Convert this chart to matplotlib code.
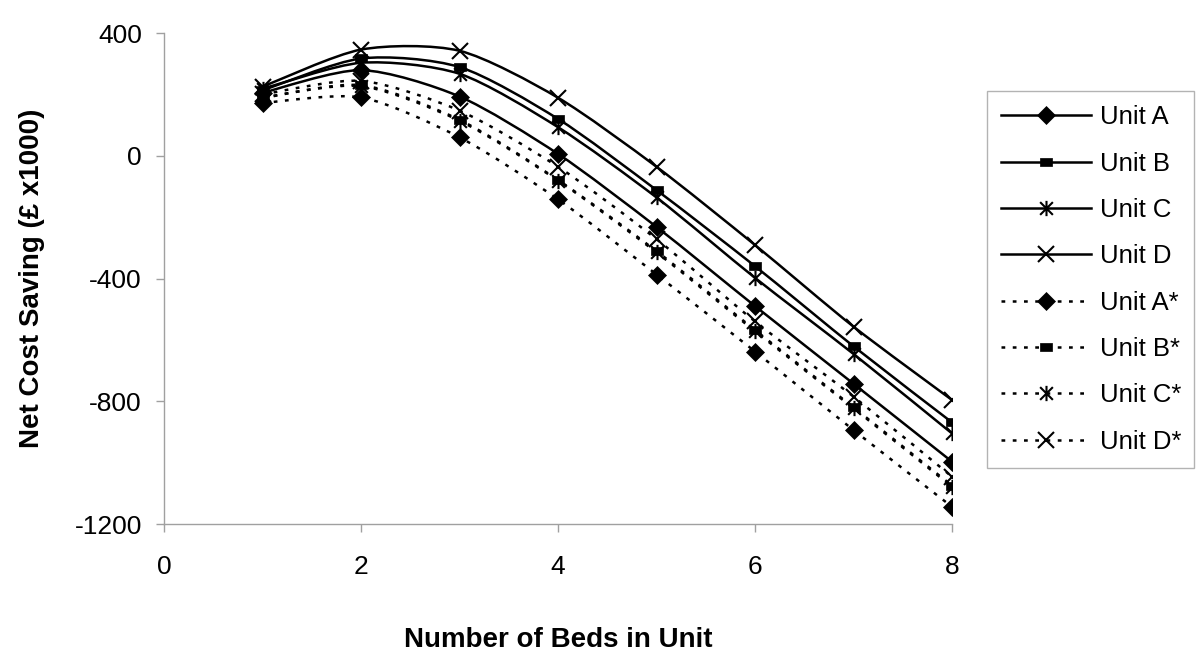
import numpy as np
import matplotlib
matplotlib.use("Agg")
import matplotlib.pyplot as plt
from matplotlib.path import Path
from matplotlib.patches import PathPatch
from matplotlib.lines import Line2D

plt.rcParams['font.family'] = ['Liberation Sans', 'DejaVu Sans']
plt.rcParams['axes.unicode_minus'] = False

beds = [1, 2, 3, 4, 5, 6, 7, 8]
unit_a = [205, 279, 193, 6, -232, -490, -743, -997]
unit_b = [213, 317, 289, 120, -112, -360, -621, -869]
unit_c = [218, 303, 267, 93, -136, -398, -646, -905]
unit_d = [225, 346, 342, 189, -36, -291, -557, -796]
unit_a_star = [172, 190, 60, -142, -387, -638, -894, -1144]
unit_b_star = [188, 230, 117, -79, -311, -568, -820, -1075]
unit_c_star = [190, 227, 114, -81, -315, -572, -823, -1079]
unit_d_star = [200, 244, 147, -36, -272, -540, -785, -1046]

labels = ["Unit A", "Unit B", "Unit C", "Unit D",
          "Unit A*", "Unit B*", "Unit C*", "Unit D*"]
series = [unit_a, unit_b, unit_c, unit_d,
          unit_a_star, unit_b_star, unit_c_star, unit_d_star]

x_ticks = [0, 2, 4, 6, 8]
y_ticks = [-1200, -800, -400, 0, 400]

# custom markers
star_path = Path([(-1, -1), (1, 1), (-1, 1), (1, -1), (0, -1.2), (0, 1.2)],
                 [Path.MOVETO, Path.LINETO, Path.MOVETO, Path.LINETO, Path.MOVETO, Path.LINETO])
rect_path = Path([(-1, -0.6), (1, -0.6), (1, 0.6), (-1, 0.6), (-1, -0.6)],
                 [Path.MOVETO, Path.LINETO, Path.LINETO, Path.LINETO, Path.CLOSEPOLY])

marker_styles = [
    dict(marker='D', markersize=9, markerfacecolor='black', markeredgecolor='black', markeredgewidth=0.5),
    dict(marker=rect_path, markersize=9, markerfacecolor='black', markeredgecolor='black', markeredgewidth=0.5),
    dict(marker=star_path, markersize=11, markerfacecolor='none', markeredgecolor='black', markeredgewidth=1.5),
    dict(marker='x', markersize=11, markerfacecolor='none', markeredgecolor='black', markeredgewidth=1.5),
]

dot_style = (0, (1.5, 3.0))


def smooth_path(xs, ys, k=1.0 / 6.0):
    pts = np.column_stack([xs, ys]).astype(float)
    n = len(pts)
    verts = [pts[0]]
    codes = [Path.MOVETO]
    for i in range(n - 1):
        p0 = pts[i - 1] if i > 0 else pts[i]
        p1 = pts[i]
        p2 = pts[i + 1]
        p3 = pts[i + 2] if i + 2 < n else pts[i + 1]
        c1 = p1 + (p2 - p0) * k
        c2 = p2 - (p3 - p1) * k
        verts += [c1, c2, p2]
        codes += [Path.CURVE4] * 3
    return Path(verts, codes)


fig = plt.figure(figsize=(12, 6.64), dpi=100)
ax = fig.add_axes([0.1367, 0.2108, 0.6567, 0.7395])

handles = []
for idx, (lab, ys) in enumerate(zip(labels, series)):
    ms = marker_styles[idx % 4]
    ls = '-' if idx < 4 else dot_style
    patch = PathPatch(smooth_path(beds, ys, 0.13), facecolor='none', edgecolor='black',
                      linewidth=1.8, linestyle=ls, transform=ax.transData, zorder=2)
    ax.add_patch(patch)
    ax.plot(beds, ys, linestyle='none', zorder=3, **ms)
    handles.append(Line2D([], [], color='black', linewidth=1.8, linestyle=ls, **ms))

ax.set_xlim(0, 8)
ax.set_ylim(-1200, 400)
ax.set_xticks(x_ticks)
ax.set_yticks(y_ticks)

for s in ['top', 'right']:
    ax.spines[s].set_visible(False)
for s in ['left', 'bottom']:
    ax.spines[s].set_color('#a0a0a0')
    ax.spines[s].set_linewidth(1.0)

ax.tick_params(axis='x', direction='out', length=6, width=1, color='#a0a0a0',
               labelsize=19, pad=16)
ax.tick_params(axis='y', direction='out', length=6, width=1, color='#a0a0a0',
               labelsize=19, pad=10)

ax.set_xlabel("Number of Beds in Unit", fontsize=20, fontweight='bold')
ax.xaxis.label.set_va('center')
ax.xaxis.set_label_coords(0.5, -0.236)
ax.set_ylabel("Net Cost Saving (£ x1000)", fontsize=20, fontweight='bold')
ax.yaxis.label.set_va('center')
ax.yaxis.set_label_coords(-0.1675, 0.5)

leg = fig.legend(handles=handles, labels=labels,
                 bbox_to_anchor=(0.8225, 0.2967, 0.1725, 0.566), loc='upper left',
                 mode='expand', fontsize=18.5, frameon=True, fancybox=False,
                 handlelength=3.5, handletextpad=0.35, labelspacing=0.87,
                 borderpad=0.55, borderaxespad=0)
leg.get_frame().set_edgecolor('#a0a0a0')
leg.get_frame().set_linewidth(1.0)

fig.savefig("out.png", dpi=100)
